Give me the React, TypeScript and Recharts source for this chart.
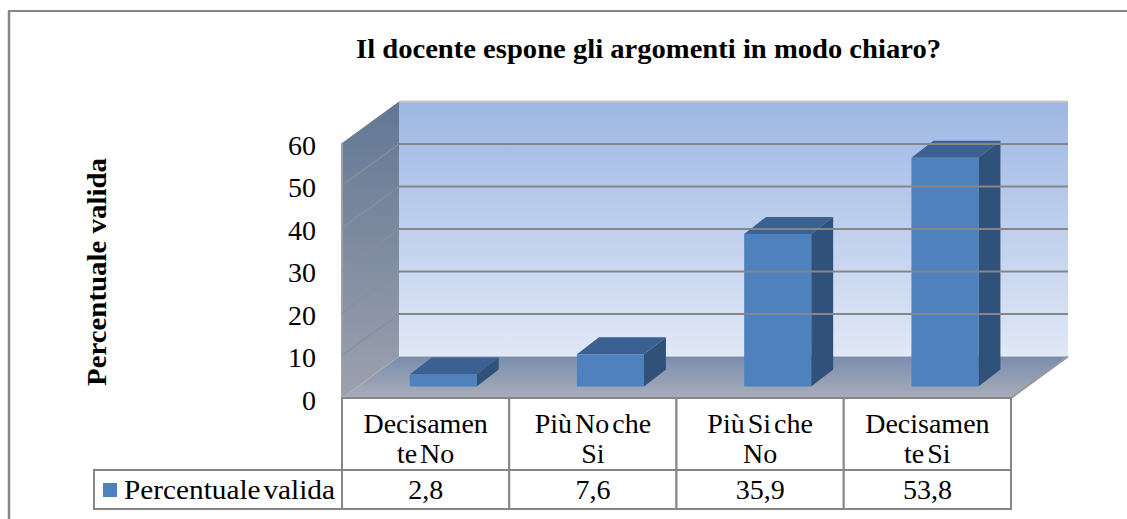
import React from 'react';
import { Bar, BarChart, ReferenceArea, ReferenceLine, XAxis, YAxis } from 'recharts';

const categories = ['Decisamente No', 'Più No che Si', 'Più Si che No', 'Decisamente Si'];
const categoryLines = [['Decisamen', 'te No'], ['Più No che', 'Si'], ['Più Si che', 'No'], ['Decisamen', 'te Si']];
const valueLabels = ['2,8', '7,6', '35,9', '53,8'];
const values = [2.8, 7.6, 35.9, 53.8];
const yTicks = [0, 10, 20, 30, 40, 50, 60];
const seriesName = 'Percentuale valida';
const title = 'Il docente espone gli argomenti in modo chiaro?';

const data = categories.map((category, i) => ({ category, value: values[i] }));

const FONT = '"Liberation Serif", serif';
const LINE = '#868686';
// depth of the walls and of the bars, in px
const WALL_DX = 57;
const WALL_DY = 41.5;
const BAR_DX = 22;
const BAR_DY = 17;
const BAR_SHIFT_X = 17.5;
const BAR_SHIFT_Y = 11.5;

const Walls = ({ x, y, width, height }: any) => {
  const r = x + width;
  const b = y + height;
  return (
    <g>
      <rect x={x + WALL_DX} y={y - WALL_DY} width={width} height={height} fill="url(#backWall)" />
      <polygon
        points={`${x},${y} ${x + WALL_DX},${y - WALL_DY} ${x + WALL_DX},${b - WALL_DY} ${x},${b}`}
        fill="url(#sideWall)"
      />
      <polygon
        points={`${x},${b} ${x + WALL_DX},${b - WALL_DY} ${r + WALL_DX},${b - WALL_DY} ${r},${b}`}
        fill="url(#floor)"
      />
      <line x1={x + WALL_DX} y1={y - WALL_DY} x2={r + WALL_DX} y2={y - WALL_DY} stroke="#c8c8c8" strokeWidth={2} />
      <line x1={x} y1={y} x2={x} y2={b} stroke="#a0a0a0" strokeWidth={2} />
      <line x1={r} y1={b} x2={r + WALL_DX} y2={b - WALL_DY} stroke="#9a9a9a" strokeWidth={2} />
      <line x1={x} y1={b} x2={x + WALL_DX} y2={b - WALL_DY} stroke="#b0b0b0" strokeWidth={1} />
    </g>
  );
};

const GridLine = (props: any) => {
  const { x1, y1, x2 } = props;
  const isFloor = y1 > 390;
  const isTop = y1 < 150;
  return (
    <g>
      {!isTop && !isFloor && (
        <line x1={x1 + WALL_DX} y1={y1 - WALL_DY} x2={x2 + WALL_DX} y2={y1 - WALL_DY} stroke={LINE} strokeWidth={2} />
      )}
      {!isFloor && !isTop && (
        <line x1={x1} y1={y1} x2={x1 + WALL_DX} y2={y1 - WALL_DY} stroke="#8a8f98" strokeWidth={1.2} />
      )}
    </g>
  );
};

const Bar3D = ({ x, y, width, height }: any) => {
  const l = x + BAR_SHIFT_X;
  const t = y - BAR_SHIFT_Y;
  const r = l + width;
  const b = t + height;
  return (
    <g>
      <polygon
        points={`${l},${t} ${l + BAR_DX},${t - BAR_DY} ${r + BAR_DX},${t - BAR_DY} ${r},${t}`}
        fill="#3A6191"
      />
      <polygon
        points={`${r},${t} ${r + BAR_DX},${t - BAR_DY} ${r + BAR_DX},${b - BAR_DY} ${r},${b}`}
        fill="#30517A"
      />
      <rect x={l} y={t} width={width} height={height} fill="#4F81BD" />
    </g>
  );
};

const TableTick = ({ x, y, index }: any) => {
  const cellW = 167.25;
  const left = x - cellW / 2;
  return (
    <g fontFamily={FONT} fontSize={28} fill="#000" textAnchor="middle" wordSpacing={-4}>
      <rect x={left} y={y} width={cellW} height={72} fill="#fff" stroke={LINE} strokeWidth={2} />
      <rect x={left} y={y + 72} width={cellW} height={39} fill="#fff" stroke={LINE} strokeWidth={2} />
      <text x={x} y={433}>{categoryLines[index][0]}</text>
      <text x={x} y={463}>{categoryLines[index][1]}</text>
      <text x={x} y={499}>{valueLabels[index]}</text>
      {index === 0 && (
        <g>
          <rect x={94} y={y + 72} width={left - 94} height={39} fill="#fff" stroke={LINE} strokeWidth={2} />
          <rect x={103} y={483} width={14} height={14} fill="#4F81BD" />
          <text x={124} y={499} textAnchor="start" fontSize={27} textLength={211} lengthAdjust="spacingAndGlyphs">
            {seriesName}
          </text>
        </g>
      )}
    </g>
  );
};

const ValueTick = ({ x, y, payload }: any) => (
  <text x={x} y={y + 2} dy="0.35em" textAnchor="end" fontFamily={FONT} fontSize={28} fill="#000">
    {payload.value}
  </text>
);

export default function App() {
  return (
    <div style={{ position: 'absolute', left: 0, top: 0 }}>
      <BarChart
        width={1127}
        height={519}
        data={data}
        margin={{ top: 143, right: 116, bottom: 0, left: 0 }}
        barCategoryGap="30%"
      >
        <defs>
          <linearGradient id="backWall" x1="0" y1="0" x2="0" y2="1">
            <stop offset="0%" stopColor="#9DB7E3" />
            <stop offset="100%" stopColor="#E1E8F6" />
          </linearGradient>
          <linearGradient id="sideWall" x1="0" y1="0" x2="0" y2="1">
            <stop offset="0%" stopColor="#627794" />
            <stop offset="100%" stopColor="#9CA1AE" />
          </linearGradient>
          <linearGradient id="floor" x1="0" y1="0" x2="0" y2="1">
            <stop offset="0%" stopColor="#7A8DAE" />
            <stop offset="100%" stopColor="#A9ADB9" />
          </linearGradient>
        </defs>
        <text
          x={648.5}
          y={58}
          textAnchor="middle"
          fontFamily={FONT}
          fontWeight="bold"
          fontSize={27}
          textLength={585}
          lengthAdjust="spacingAndGlyphs"
          fill="#000"
        >
          {title}
        </text>
        <text
          x={106}
          y={272}
          textAnchor="middle"
          transform="rotate(-90 106 272)"
          fontFamily={FONT}
          fontWeight="bold"
          fontSize={28}
          textLength={228}
          lengthAdjust="spacingAndGlyphs"
          fill="#000"
        >
          {seriesName}
        </text>
        <line x1={8} y1={11} x2={1127} y2={11} stroke={LINE} strokeWidth={2} />
        <line x1={9} y1={11} x2={9} y2={519} stroke={LINE} strokeWidth={2.5} />
        <ReferenceArea y1={0} y2={60} shape={Walls} />
        {yTicks.map((t) => (
          <ReferenceLine key={t} y={t} shape={GridLine} />
        ))}
        <XAxis
          dataKey="category"
          height={121}
          interval={0}
          axisLine={false}
          tickLine={false}
          tickSize={0}
          tickMargin={0}
          tick={TableTick}
        />
        <YAxis
          type="number"
          domain={[0, 60]}
          ticks={yTicks}
          width={342}
          axisLine={false}
          tickLine={false}
          tickSize={0}
          tickMargin={26}
          tick={ValueTick}
        />
        <Bar dataKey="value" name={seriesName} shape={Bar3D} isAnimationActive={false} />
      </BarChart>
    </div>
  );
}
